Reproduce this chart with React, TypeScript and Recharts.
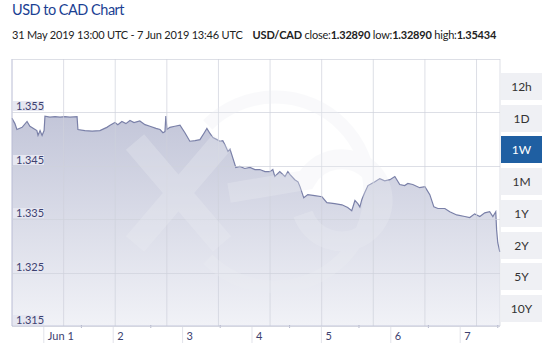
import React from 'react'
import { ComposedChart, Area, XAxis, YAxis, ReferenceLine } from 'recharts'

// hours since 31 May 2019 13:00 UTC
const hours = [
	0, 1.0, 1.7, 3.5, 5.2, 6.2, 8.0, 8.6, 9.0, 9.7, 10.4, 11.1, 11.4, 13.1, 14.9, 16.6, 18.3, 20.0, 22.5,
	22.8, 25.2, 27.7, 30.4, 32.8, 33.9, 35.6, 36.6, 38.0, 39.4, 40.8, 42.2, 44.2, 46.0, 47.7, 49.8, 51.2,
	52.2, 52.9, 53.2, 53.6, 54.6, 56.3, 58.1, 59.8, 61.5, 63.3, 65.0, 66.4, 67.4, 68.4, 69.5, 70.9, 71.9,
	72.9, 73.6, 74.7, 75.4, 76.0, 77.4, 78.8, 80.5, 82.3, 84.0, 85.7, 87.5, 89.2, 90.2, 90.9, 92.6, 94.4,
	95.4, 96.1, 97.8, 98.9, 99.6, 100.9, 102.3, 104.7, 107.2, 108.9, 111.6, 114.1, 116.1, 117.5, 118.6,
	119.6, 120.3, 121.0, 122.0, 123.1, 124.4, 125.5, 127.2, 128.9, 130.7, 132.4, 134.1, 135.8, 136.9,
	138.6, 141.0, 142.8, 144.5, 145.9, 147.3, 149.7, 151.4, 153.8, 156.6, 158.3, 160.0, 161.8, 163.5,
	165.2, 166.3, 167.3, 167.6, 168.0, 168.7,
]
const rates = [
	1.3539, 1.3529, 1.3518, 1.3522, 1.3533, 1.3524, 1.3518, 1.3516, 1.3507, 1.3516, 1.3507, 1.3516, 1.3543,
	1.3541, 1.3542, 1.3541, 1.3542, 1.3541, 1.3542, 1.3518, 1.3516, 1.3515, 1.3516, 1.3522, 1.3526, 1.3531,
	1.3527, 1.3533, 1.3529, 1.3535, 1.3531, 1.3534, 1.3527, 1.3524, 1.352, 1.3518, 1.3512, 1.3514, 1.3543,
	1.3518, 1.3522, 1.3524, 1.3526, 1.3512, 1.3496, 1.3497, 1.3499, 1.3511, 1.352, 1.3511, 1.3503, 1.3499,
	1.3496, 1.3497, 1.349, 1.3477, 1.3481, 1.3471, 1.3447, 1.3449, 1.3445, 1.3447, 1.3443, 1.3443, 1.3439,
	1.3439, 1.3443, 1.343, 1.3439, 1.343, 1.3439, 1.3434, 1.3424, 1.342, 1.3411, 1.339, 1.3396, 1.3394,
	1.3392, 1.3381, 1.3379, 1.3377, 1.3372, 1.3366, 1.3385, 1.3379, 1.3373, 1.3387, 1.34, 1.3413, 1.3417,
	1.342, 1.3426, 1.3422, 1.3424, 1.343, 1.3415, 1.3413, 1.3417, 1.3415, 1.3409, 1.3411, 1.3396, 1.3373,
	1.337, 1.337, 1.3364, 1.3358, 1.3355, 1.3353, 1.336, 1.3355, 1.3362, 1.3364, 1.3355, 1.3364, 1.333,
	1.3306, 1.3289,
]

const dayHours = [11, 35, 59, 83, 107, 131, 155]
const dayLabels = ['Jun 1', '2', '3', '4', '5', '6', '7']
const minorHours = [24, 48, 72, 96, 120, 144, 168]
const gridHours = [17.85, 35.7, 53.55, 71.4, 89.25, 107.1, 124.95, 142.8, 160.65]
const rateTicks = [1.315, 1.325, 1.335, 1.345, 1.355, 1.365]
const endHour = 168.77

const rangeButtons = ['12h', '1D', '1W', '1M', '1Y', '2Y', '5Y', '10Y']
const selectedRange = '1W'

const title = 'USD to CAD Chart'
const period = '31 May 2019 13:00 UTC - 7 Jun 2019 13:46 UTC'
const pair = 'USD/CAD'
const closeRate = '1.32890'
const lowRate = '1.32890'
const highRate = '1.35434'

const data = hours.map((h, i) => ({ h, rate: rates[i] }))
const xTicks = [...dayHours, ...minorHours].sort((a, b) => a - b)

const DayTick = (props: any) => {
	const { x, y, payload } = props
	const i = dayHours.indexOf(payload.value)
	if (i < 0) {
		return <line x1={x} x2={x} y1={y - 1} y2={y + 2} stroke='#b4b7cc' />
	}
	return (
		<g>
			<line x1={x} x2={x} y1={y} y2={y + 17} stroke='#e2e3ea' />
			<text x={x + 4} y={y + 14} fontSize={11} fill='#3d4170'>
				{dayLabels[i]}
			</text>
		</g>
	)
}

// value label box plus the horizontal grid line for each rate tick
const RateTick = (props: any) => {
	const { y, payload } = props
	const gy = Math.round(y)
	return (
		<g>
			<rect x={12} y={gy} width={488} height={1} fill='#cfd1dc' fillOpacity={0.7} />
			{payload.value < 1.36 && (
				<>
					<rect x={13} y={gy - 11} width={31} height={10} fill='#e6e7f1' />
					<text x={16} y={gy - 2} fontSize={11} fill='#3d4170'>
						{payload.value.toFixed(3)}
					</text>
				</>
			)}
		</g>
	)
}

const Watermark = () => (
	<svg
		width={547}
		height={361}
		style={{ position: 'absolute', left: 0, top: 0, pointerEvents: 'none' }}
	>
		<g fill='none' stroke='#eceef3' opacity={0.3}>
			<path d='M 207.8 124.8 A 95 95 0 1 1 207.8 259.2' strokeWidth={13} />
			<path d='M 303 214 A 41 41 0 1 0 306 180 L 229 193' strokeWidth={20} />
			<path d='M 135 142 L 222 244 M 222 142 L 135 244' strokeWidth={24} />
		</g>
	</svg>
)

export default function App() {
	return (
		<div
			style={{
				position: 'absolute',
				left: 0,
				top: 0,
				width: 547,
				height: 361,
				background: '#fff',
				fontFamily: 'Lato, sans-serif',
				color: '#222',
			}}
		>
			<div
				style={{
					position: 'absolute',
					left: 12,
					top: 1,
					fontSize: 14.5,
					letterSpacing: -0.5,
					color: '#1b3f93',
				}}
			>
				{title}
			</div>
			<div
				style={{
					position: 'absolute',
					left: 12,
					top: 28,
					fontSize: 11,
					letterSpacing: -0.2,
					whiteSpace: 'nowrap',
				}}
			>
				{period}
				<span style={{ marginLeft: 10 }}>
					<b>{pair}</b> close:<b>{closeRate}</b> low:<b>{lowRate}</b> high:<b>{highRate}</b>
				</span>
			</div>
			<div style={{ position: 'absolute', left: 0, top: 0 }}>
				<ComposedChart
					width={547}
					height={361}
					data={data}
					margin={{ top: 59, right: 47, bottom: 15, left: 11 }}
				>
					<defs>
						<linearGradient id='fillGrad' x1='0' y1='0' x2='0' y2='1'>
							<stop offset='0%' stopColor='#c3c6d9' />
							<stop offset='100%' stopColor='#f1f2f7' />
						</linearGradient>
					</defs>
					<XAxis
						dataKey='h'
						type='number'
						domain={[0, endHour]}
						ticks={xTicks}
						interval={0}
						height={20}
						tickSize={0}
						tickMargin={0}
						tickLine={false}
						axisLine={{ stroke: '#c3c6da' }}
						tick={<DayTick />}
					/>
					<Area
						type='linear'
						dataKey='rate'
						stroke='#7a80a8'
						strokeWidth={1.2}
						fill='url(#fillGrad)'
						fillOpacity={1}
						dot={false}
						activeDot={false}
						isAnimationActive={false}
					/>
					{gridHours.map((g) => (
						<ReferenceLine key={g} x={g} stroke='#cfd1dc' strokeOpacity={0.7} />
					))}
					<ReferenceLine x={endHour} stroke='#cfd1dc' strokeOpacity={0.7} />
					<YAxis
						type='number'
						domain={[1.315, 1.365]}
						ticks={rateTicks}
						interval={0}
						allowDataOverflow
						width={1}
						tickSize={0}
						tickMargin={0}
						tickLine={false}
						axisLine={{ stroke: '#b9bcd4' }}
						tick={<RateTick />}
					/>
				</ComposedChart>
			</div>
			<Watermark />
			{rangeButtons.map((b, i) => (
				<div
					key={b}
					style={{
						position: 'absolute',
						left: 501,
						top: 73 + i * 31.7,
						width: 41,
						height: 27,
						lineHeight: '27px',
						textAlign: 'center',
						fontSize: 12,
						background: b === selectedRange ? '#1f5fa2' : '#eff0f4',
						color: b === selectedRange ? '#fff' : '#333',
					}}
				>
					{b}
				</div>
			))}
		</div>
	)
}
